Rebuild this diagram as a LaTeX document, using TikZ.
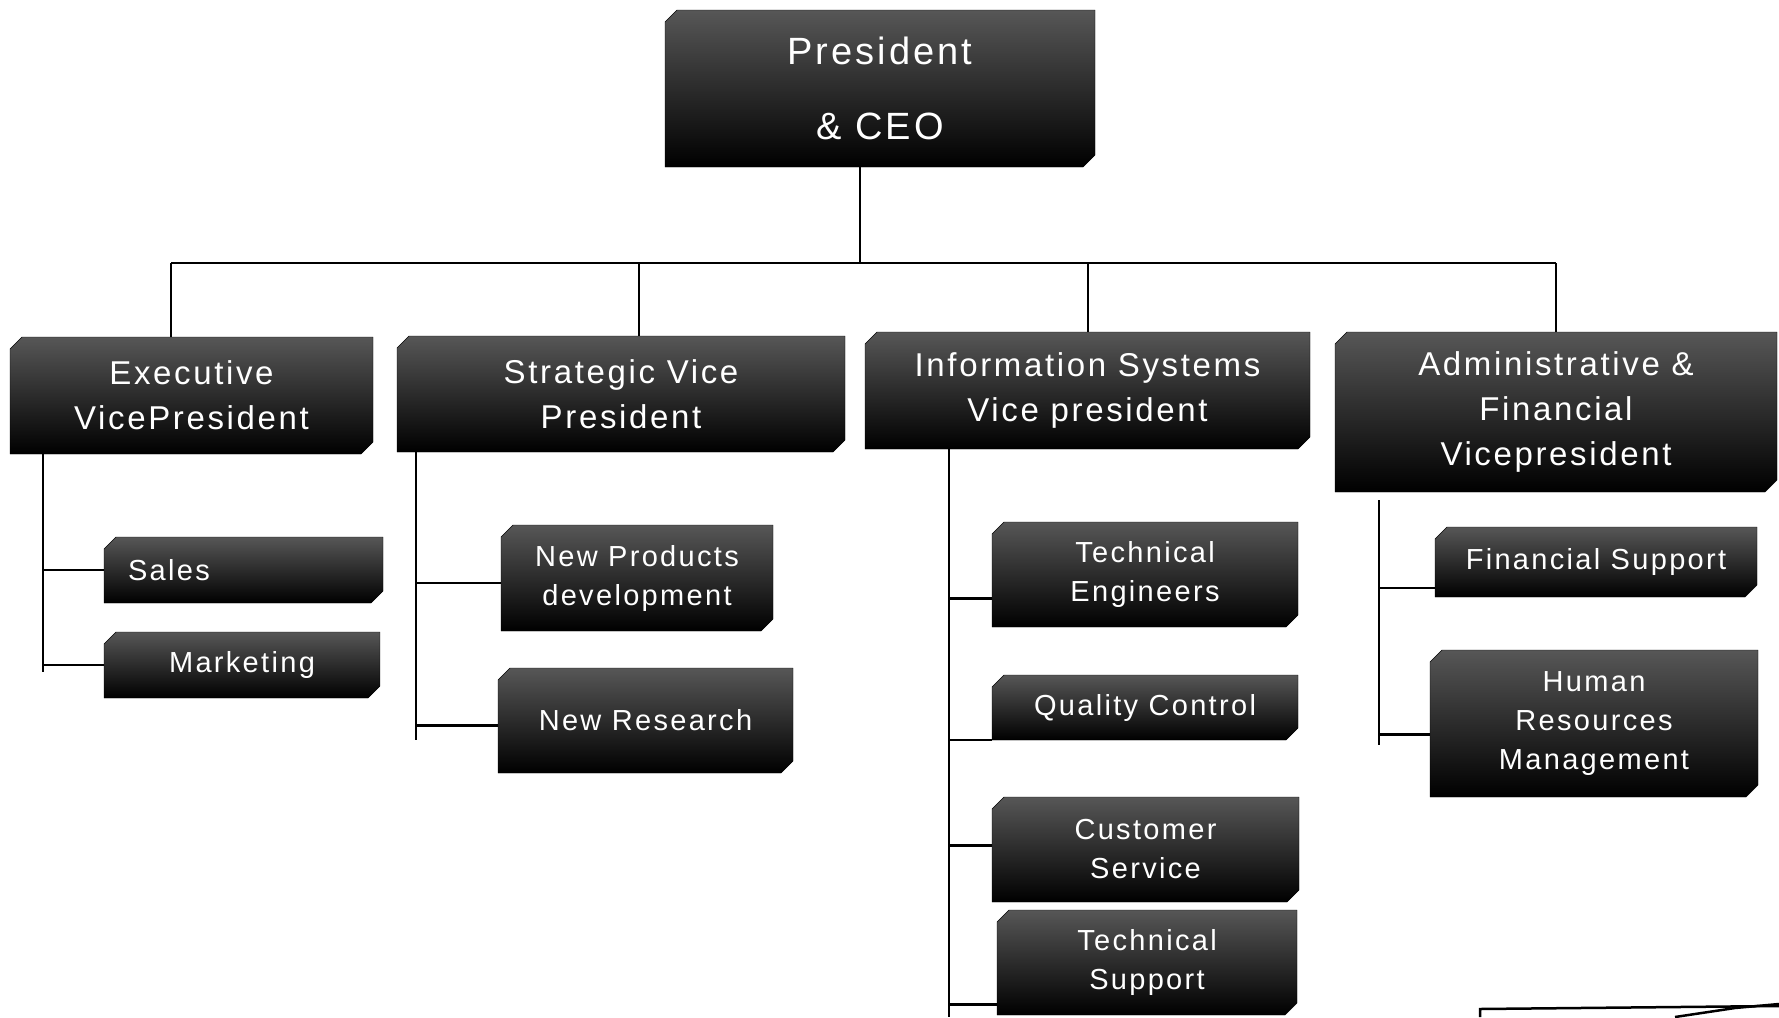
\documentclass[tikz,border=0pt]{standalone}
\usepackage{fontspec}
\setmainfont[LetterSpace=8]{Liberation Sans}
\usetikzlibrary{shapes}
\definecolor{boxtop}{gray}{0.34}

\begin{document}
\begin{tikzpicture}[x=1pt,y=-1pt]
\tikzstyle{every node}+=[inner sep=0pt]
\tikzstyle{post}=[chamfered rectangle, chamfered rectangle corners={north west,south east},
  chamfered rectangle xsep=6pt, chamfered rectangle ysep=6pt,
  draw=black, top color=boxtop, middle color=black!90, bottom color=black,
  text=white, align=center]
\tikzstyle{top}=[post, font=\fontsize{38}{75}\selectfont]
\tikzstyle{vp}=[post, font=\fontsize{33}{45}\selectfont]
\tikzstyle{unit}=[post, font=\fontsize{29}{39}\selectfont]
\tikzstyle{link}=[black, line width=2.5pt]
\useasboundingbox (0,0) rectangle (1779,1017);
\node [top, minimum width=430, minimum height=157] (ceo) at (880,88.5) {President\\\& CEO};
\node [vp, minimum width=363, minimum height=117] (exec) at (191.5,395.5) {Executive\\VicePresident};
\node [vp, minimum width=448, minimum height=116] (strat) at (621,394) {Strategic Vice\\President};
\node [vp, minimum width=445, minimum height=117] (info) at (1087.5,390.5) {Information Systems\\Vice president};
\node [vp, minimum width=442, minimum height=160] (admin) at (1556,412) {Administrative \&\\Financial\\Vicepresident};
\node [unit, minimum width=279, minimum height=66, text width=231, align=left] (sales) at (243.5,570) {Sales};
\node [unit, minimum width=276, minimum height=66] (mkt) at (242,665) {Marketing};
\node [unit, minimum width=272, minimum height=106] (npd) at (637,578) {New Products\\development};
\node [unit, minimum width=295, minimum height=105] (nres) at (645.5,720.5) {New Research};
\node [unit, minimum width=306, minimum height=105] (teng) at (1145,574.5) {Technical\\Engineers};
\node [unit, minimum width=306, minimum height=65] (qc) at (1145,707.5) {Quality Control};
\node [unit, minimum width=307, minimum height=105] (cs) at (1145.5,849.5) {Customer\\Service};
\node [unit, minimum width=300, minimum height=105] (ts) at (1147,962.5) {Technical\\Support};
\node [unit, minimum width=322, minimum height=70] (fs) at (1596,562) {Financial Support};
\node [unit, minimum width=328, minimum height=147] (hrm) at (1594,723.5) {Human\\Resources\\Management};
\coordinate (b1) at (171,263);
\coordinate (b2) at (639,263);
\coordinate (b3) at (1088,263);
\coordinate (b4) at (1556,263);
\coordinate (s1) at (43,672);
\coordinate (s2) at (416,740);
\coordinate (s3) at (949,1017);
\coordinate (s4) at (1379,745);
\draw [link] (b1) -- (b4);
\draw [link] ([xshift=-20pt]ceo.south) -- ([xshift=-20pt]ceo.south |- b1);
\draw [link] (b1) -- (b1 |- exec.north);
\draw [link] (b2) -- (b2 |- strat.north);
\draw [link] (b3) -- (b3 |- info.north);
\draw [link] (b4) -- (b4 |- admin.north);
\draw [link] (exec.south -| s1) -- (s1);
\draw [link] (sales.west -| s1) -- (sales.west);
\draw [link] (mkt.west -| s1) -- (mkt.west);
\draw [link] (strat.south -| s2) -- (s2);
\draw [link] ([yshift=-5pt]npd.west -| s2) -- ([yshift=-5pt]npd.west);
\draw [link] ([yshift=-5pt]nres.west -| s2) -- ([yshift=-5pt]nres.west);
\draw [link] (info.south -| s3) -- (s3);
\draw [link] ([yshift=-24pt]teng.west -| s3) -- ([yshift=-24pt]teng.west);
\draw [link] (qc.south west -| s3) -- (qc.south west);
\draw [link] ([yshift=4pt]cs.west -| s3) -- ([yshift=4pt]cs.west);
\draw [link] ([yshift=-42pt]ts.west -| s3) -- ([yshift=-42pt]ts.west);
\draw [link] ([yshift=-8pt]admin.south -| s4) -- (s4);
\draw [link] ([yshift=-26pt]fs.west -| s4) -- ([yshift=-26pt]fs.west);
\draw [link] ([yshift=-11pt]hrm.west -| s4) -- ([yshift=-11pt]hrm.west);
\draw [link] (1480,1017) -- (1480,1009) -- (1779,1006);
\draw [link] (1675,1017) -- (1735,1008) -- (1779,1004);
\end{tikzpicture}
\end{document}
